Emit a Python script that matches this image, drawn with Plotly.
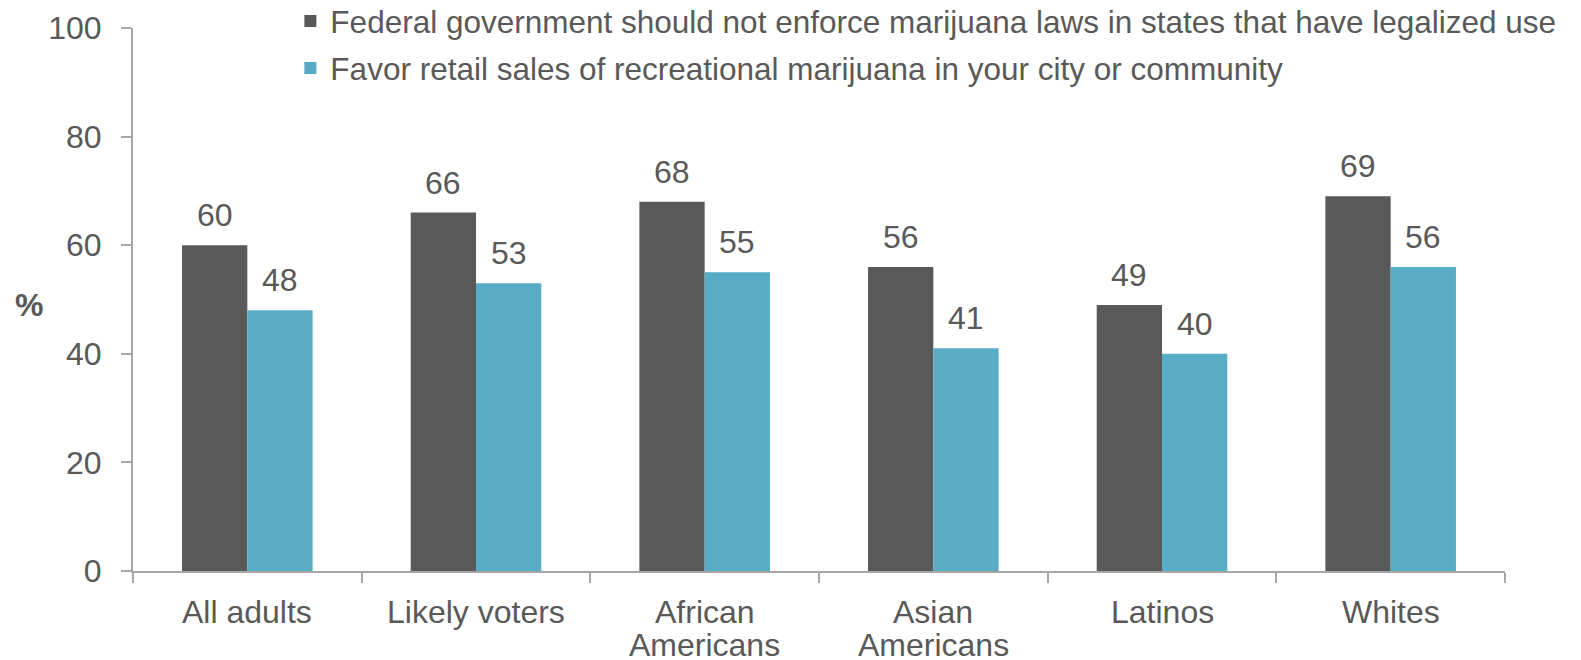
import plotly.graph_objects as go

categories = ["All adults", "Likely voters", "African Americans", "Asian Americans", "Latinos", "Whites"]
category_lines = [["All adults"], ["Likely voters"], ["African", "Americans"], ["Asian", "Americans"], ["Latinos"], ["Whites"]]
federal = [60, 66, 68, 56, 49, 69]
retail = [48, 53, 55, 41, 40, 56]
series_names = [
    "Federal government should not enforce marijuana laws in states that have legalized use",
    "Favor retail sales of recreational marijuana in your city or community",
]
y_ticks = [0, 20, 40, 60, 80, 100]

DARK = "#595959"
CYAN = "#59ACC5"
TEXT = "#595959"
AXIS = "#A6A6A6"
FONT = "Liberation Sans, Arial, sans-serif"
FS = 32
LEG_FS = 31.5

fig = go.Figure()
fig.add_trace(go.Bar(x=categories, y=federal, name=series_names[0], marker=dict(color=DARK, line=dict(width=0)), legendgroup="a"))
fig.add_trace(go.Bar(x=categories, y=retail, name=series_names[1], marker=dict(color=CYAN, line=dict(width=0)), legendgroup="b"))

half = 32.7
for c, v in zip(categories, federal):
    fig.add_annotation(x=c, y=v, text=str(v), showarrow=False, xshift=-half, yshift=10,
                       yanchor="bottom", font=dict(size=FS, color=TEXT, family=FONT))
for c, v in zip(categories, retail):
    fig.add_annotation(x=c, y=v, text=str(v), showarrow=False, xshift=half, yshift=10,
                       yanchor="bottom", font=dict(size=FS, color=TEXT, family=FONT))

# category labels (two-line labels with tighter line spacing than plotly's default)
for c, lines in zip(categories, category_lines):
    for i, line in enumerate(lines):
        fig.add_annotation(x=c, y=0, text=line, showarrow=False, yanchor="middle",
                           yshift=-41 - 33 * i, font=dict(size=FS, color=TEXT, family=FONT))

fig.add_annotation(xref="paper", yref="paper", x=-0.0758, xanchor="center", y=0.4725, yanchor="middle",
                   text="<b>%</b>", showarrow=False,
                   font=dict(size=FS, color=TEXT, family=FONT))

fig.update_layout(
    width=1581, height=660,
    margin=dict(l=125, r=84, t=0, b=97, autoexpand=False),
    paper_bgcolor="white", plot_bgcolor="white",
    barmode="group", bargap=0.429, bargroupgap=0,
    font=dict(family=FONT, size=FS, color=TEXT),
    showlegend=True,
    legend=dict(x=0.1147, xanchor="left", y=1.0247, yanchor="top", tracegroupgap=3,
                font=dict(size=LEG_FS, color=TEXT, family=FONT), bgcolor="rgba(0,0,0,0)"),
    xaxis=dict(showline=True, linecolor=AXIS, linewidth=2, ticks="outside", ticklen=10,
               tickcolor=AXIS, tickwidth=2, tickson="boundaries", showgrid=False,
               showticklabels=False),
    yaxis=dict(range=[0, 100], domain=[0, 543 / 563], tickvals=y_ticks, showline=True, linecolor=AXIS, linewidth=2,
               ticks="outside", ticklen=10, tickcolor=AXIS, tickwidth=2, showgrid=False,
               zeroline=False, ticklabelstandoff=13,
               tickfont=dict(size=FS, color=TEXT, family=FONT)),
)

fig.write_html("out.html")
